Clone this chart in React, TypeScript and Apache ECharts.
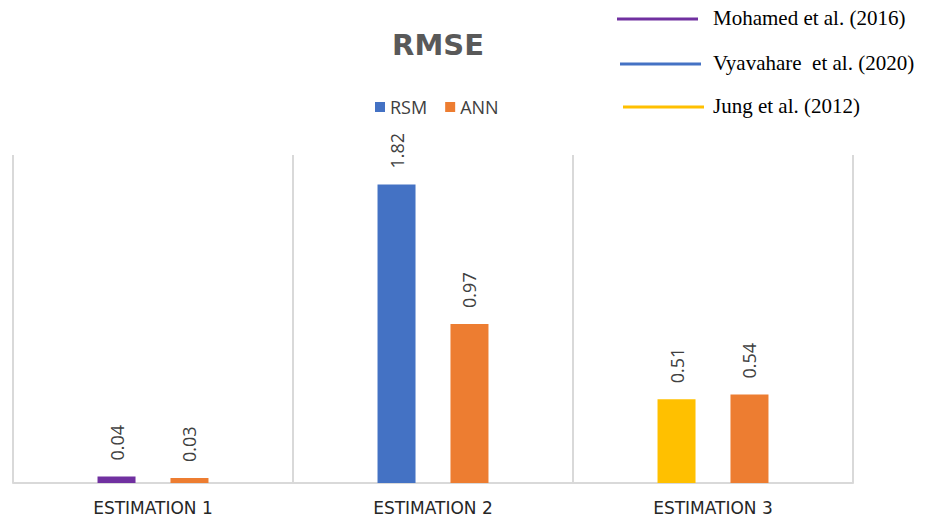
import React, { useEffect, useRef } from "react";
import * as echarts from "echarts";

const categories = ["ESTIMATION 1", "ESTIMATION 2", "ESTIMATION 3"];
const rsmValues = [0.04, 1.82, 0.51];
const annValues = [0.03, 0.97, 0.54];
const rsmColors = ["#7030A0", "#4472C4", "#FFC000"];
const annColor = "#ED7D31";
const studyLabels = ["Mohamed et al. (2016)", "Vyavahare  et al. (2020)", "Jung et al. (2012)"];
const studyColors = ["#7030A0", "#4472C4", "#FFC000"];

export default function App() {
  const ref = useRef<HTMLDivElement>(null);
  useEffect(() => {
    document.body.style.margin = "0";
    if (!ref.current) return;
    const chart = echarts.init(ref.current, null, { renderer: "svg" });
    const font = "'Open Sans', sans-serif";
    const lineY = [19, 64, 107];
    const lineX = [617, 620, 623];
    const graphics: any[] = [];
    studyLabels.forEach((t, i) => {
      graphics.push({
        type: "line",
        shape: { x1: lineX[i], y1: lineY[i], x2: lineX[i] + 81, y2: lineY[i] },
        style: { stroke: studyColors[i], lineWidth: 3 },
      });
      graphics.push({
        type: "text",
        x: 713,
        y: lineY[i] - 1,
        style: {
          text: t,
          fill: "#000",
          font: "21px 'Liberation Serif', serif",
          textVerticalAlign: "middle",
          verticalAlign: "middle",
        },
      });
    });
    const labelCfg = {
      show: true,
      position: "top",
      rotate: 90,
      align: "left",
      verticalAlign: "middle",
      distance: 16,
      fontSize: 18,
      fontFamily: font,
      color: "#404040",
    };
    chart.setOption({
      animation: false,
      title: {
        text: "RMSE",
        left: 433,
        top: 25,
        textAlign: "center",
        textStyle: { fontSize: 29, fontWeight: "bold", color: "#595959", fontFamily: "'DejaVu Sans', sans-serif" },
      },
      legend: {
        left: 370,
        top: 93,
        itemWidth: 10,
        itemHeight: 10,
        itemGap: 18,
        icon: "rect",
        data: ["RSM", "ANN"],
        textStyle: { fontSize: 18, color: "#404040", fontFamily: font },
      },
      grid: { left: 13, right: 81, top: 155, bottom: 36 },
      xAxis: {
        type: "category",
        data: categories,
        axisLine: { lineStyle: { color: "#d9d9d9", width: 2 } },
        axisTick: { show: false },
        splitLine: { show: true, lineStyle: { color: "#d9d9d9", width: 2 } },
        axisLabel: {
          fontSize: 17,
          color: "#262626",
          fontFamily: "'DejaVu Sans', sans-serif",
          margin: 16,
        },
      },
      yAxis: { type: "value", min: 0, max: 2, show: false, splitLine: { show: false } },
      series: [
        {
          name: "RSM",
          type: "bar",
          barWidth: 38,
          barGap: "92%",
          itemStyle: { color: "#4472C4" },
          data: rsmValues.map((v, i) => ({ value: v, itemStyle: { color: rsmColors[i] } })),
          label: labelCfg,
        },
        {
          name: "ANN",
          type: "bar",
          barWidth: 38,
          barGap: "92%",
          itemStyle: { color: annColor },
          data: annValues,
          label: labelCfg,
        },
      ],
      graphic: graphics,
    });
    return () => chart.dispose();
  }, []);
  return <div ref={ref} style={{ width: 934, height: 519 }} />;
}
